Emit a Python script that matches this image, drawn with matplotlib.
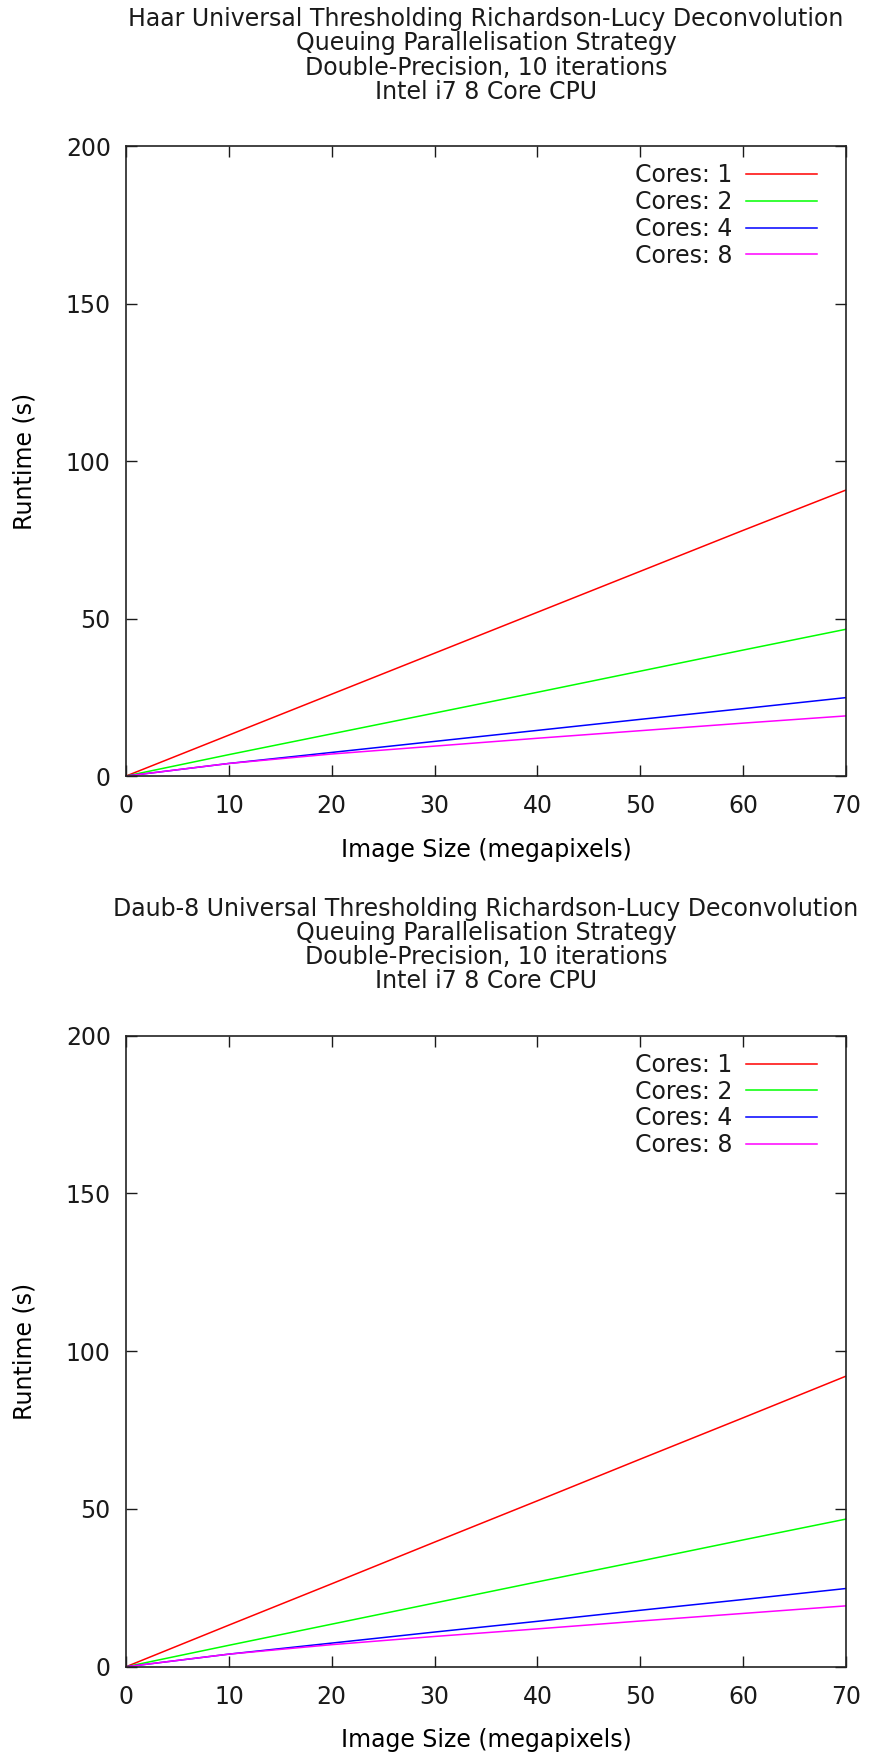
import matplotlib
matplotlib.use("Agg")
import matplotlib.pyplot as plt

# Image sizes (megapixels) at which runtimes were measured
sizes = [0, 10, 20, 30, 40, 50, 60, 70]

# Haar wavelet runtimes (s)
haar_c1 = [0, 13.0, 26.0, 39.0, 52.0, 65.0, 78.0, 90.8]
haar_c2 = [0, 6.8, 13.4, 20.0, 26.6, 33.3, 40.0, 46.6]
haar_c4 = [0, 4.0, 7.5, 11.0, 14.5, 18.0, 21.4, 24.9]
haar_c8 = [0, 4.0, 7.0, 9.5, 12.0, 14.4, 16.8, 19.1]

# Daub-8 wavelet runtimes (s)
daub_c1 = [0, 13.2, 26.3, 39.5, 52.6, 65.8, 78.9, 92.1]
daub_c2 = [0, 6.8, 13.5, 20.2, 26.9, 33.5, 40.2, 46.8]
daub_c4 = [0, 4.0, 7.5, 11.0, 14.4, 17.9, 21.3, 24.8]
daub_c8 = [0, 4.0, 7.0, 9.6, 12.0, 14.5, 16.9, 19.3]

core_labels = ["Cores: 1", "Cores: 2", "Cores: 4", "Cores: 8"]
colors = ["#ff0000", "#00ff00", "#0000ff", "#ff00ff"]

title_common = ["Queuing Parallelisation Strategy",
                "Double-Precision, 10 iterations",
                "Intel i7 8 Core CPU"]

plt.rcParams["font.family"] = ["DejaVu Sans"]
plt.rcParams["text.color"] = "#1a1a1a"

fig = plt.figure(figsize=(8.71, 17.53), dpi=100)

panels = [
    ("Haar", [haar_c1, haar_c2, haar_c4, haar_c8], [0.1447, 0.5573, 0.8266, 0.3594]),
    ("Daub-8", [daub_c1, daub_c2, daub_c4, daub_c8], [0.1447, 0.0492, 0.8266, 0.3600]),
]

fs = 17
for name, series, rect in panels:
    ax = fig.add_axes(rect)
    for vals, lab, col in zip(series, core_labels, colors):
        ax.plot(sizes, vals, color=col, lw=1.1, label=lab)
    ax.set_xlim(0, 70)
    ax.set_ylim(0, 200)
    ax.set_xticks(range(0, 71, 10))
    ax.set_yticks(range(0, 201, 50))
    ax.tick_params(direction="in", length=8, width=1.0, top=True, right=True,
                   labelsize=fs, colors="#1a1a1a", pad=11)
    ax.tick_params(axis="x", pad=13)
    for sp in ax.spines.values():
        sp.set_linewidth(1.2)
        sp.set_color("#222222")
    ax.set_xlabel("Image Size (megapixels)", fontsize=fs, labelpad=14)
    ax.set_ylabel("Runtime (s)", fontsize=fs, labelpad=21)
    title = "\n".join([f"{name} Universal Thresholding Richardson-Lucy Deconvolution"] + title_common)
    ax.set_title(title, fontsize=fs, pad=34, linespacing=1.01)
    ax.legend(loc="upper right", bbox_to_anchor=(0.983, 0.999), frameon=False,
              markerfirst=False, fontsize=fs, handlelength=3.0,
              handletextpad=0.6, labelspacing=0.12, borderpad=0.2)

fig.savefig("out.png", dpi=100, facecolor="white")
